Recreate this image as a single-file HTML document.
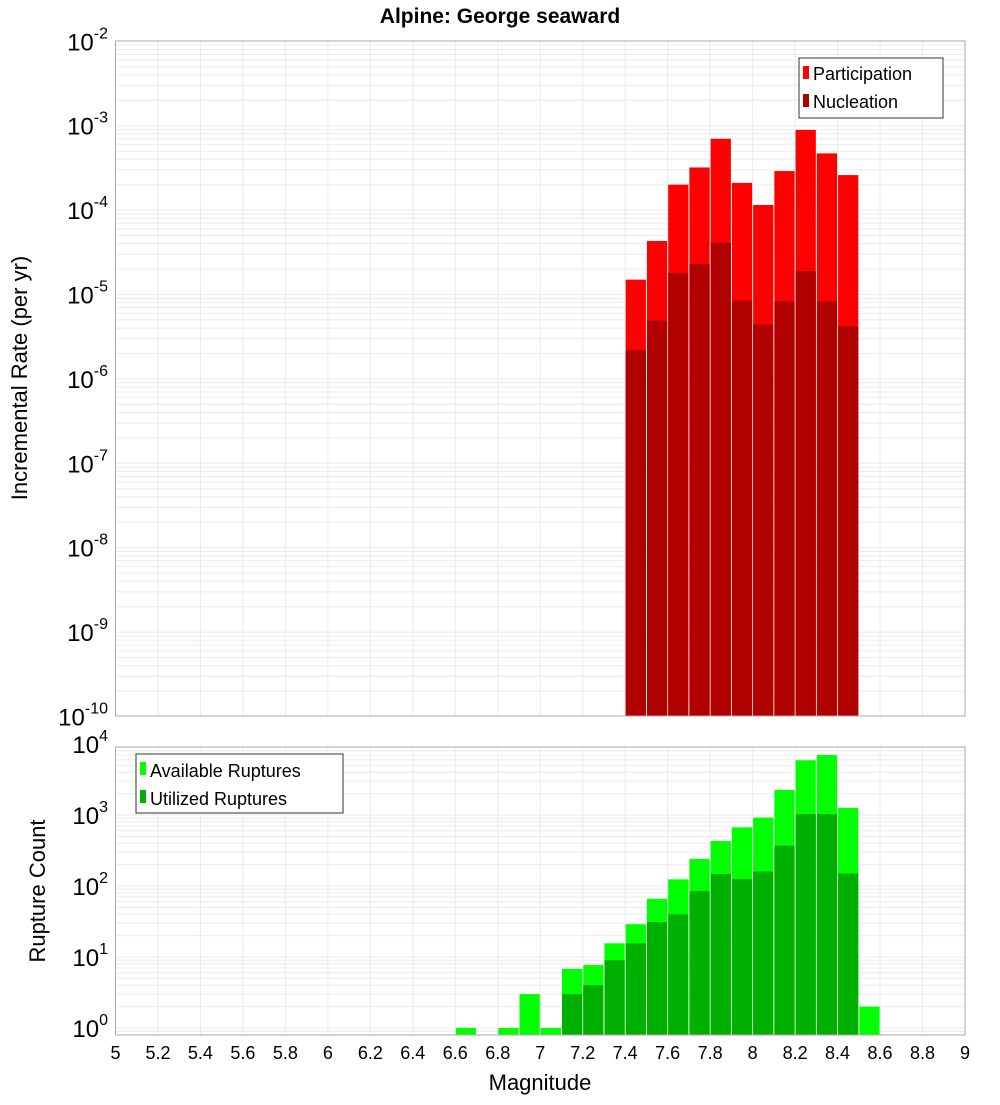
<!DOCTYPE html>
<html><head><meta charset="utf-8"><style>body{margin:0;background:#fff}svg text{font-family:"Liberation Sans","DejaVu Sans",sans-serif}</style></head>
<body>
<svg id="chart" width="1000" height="1100" xmlns="http://www.w3.org/2000/svg">
<text x="500" y="23" text-anchor="middle" font-size="21" font-weight="bold">Alpine: George seaward</text>
<g id="grid"></g><g id="bars"></g><g id="axes"></g>
<text transform="translate(27,378) rotate(-90)" text-anchor="middle" font-size="22">Incremental Rate (per yr)</text>
<text transform="translate(45,891) rotate(-90)" text-anchor="middle" font-size="22">Rupture Count</text>
<text x="540" y="1090" text-anchor="middle" font-size="22">Magnitude</text>
<g>
<rect x="799" y="58" width="144" height="60" fill="#fff" stroke="#333"/>
<rect x="803" y="66" width="6" height="13" fill="#ff0000"/><text x="813" y="80" font-size="18">Participation</text>
<rect x="803" y="94" width="6" height="13" fill="#b00000"/><text x="813" y="108" font-size="18">Nucleation</text>
</g>
<g>
<rect x="136" y="754" width="207" height="59" fill="#fff" stroke="#333"/>
<rect x="140" y="762" width="6" height="13" fill="#00ff00"/><text x="150" y="777" font-size="18">Available Ruptures</text>
<rect x="140" y="790" width="6" height="13" fill="#00b000"/><text x="150" y="805" font-size="18">Utilized Ruptures</text>
</g>
</svg>
<script>
const topMags=[7.45,7.55,7.65,7.75,7.85,7.95,8.05,8.15,8.25,8.35,8.45];
const participation=[1.5e-5,4.3e-5,2.0e-4,3.2e-4,7.0e-4,2.1e-4,1.15e-4,2.9e-4,8.9e-4,4.7e-4,2.6e-4];
const nucleation=[2.2e-6,4.9e-6,1.8e-5,2.3e-5,4.1e-5,8.5e-6,4.4e-6,8.3e-6,1.9e-5,8.3e-6,4.2e-6];
const botMags=[6.65,6.85,6.95,7.05,7.15,7.25,7.35,7.45,7.55,7.65,7.75,7.85,7.95,8.05,8.15,8.25,8.35,8.45,8.55];
const available=[1,1,3,1,6.8,7.7,15.6,29,66,124,240,430,670,920,2250,5900,7000,1260,2];
const utilized=[0,0,0,0,3,4,9,15.6,31,40,85,148,126,160,370,1030,1030,150,0];
const xTicks=[5,5.2,5.4,5.6,5.8,6,6.2,6.4,6.6,6.8,7,7.2,7.4,7.6,7.8,8,8.2,8.4,8.6,8.8,9];
const topExps=[-2,-3,-4,-5,-6,-7,-8,-9,-10];
const botExps=[0,1,2,3,4];
const NS="http://www.w3.org/2000/svg";
const L=115.5,R=965;
const X=m=>L+(m-5)*(R-L)/4;
const YT=v=>41.3+(-2-Math.log10(v))*84.4;
const YB=v=>1028-71*Math.log10(v);
const TT=41,TB=716,BT=747,BB=1035;
function mk(p,tag,a){const e=document.createElementNS(NS,tag);for(const k in a)e.setAttribute(k,a[k]);document.getElementById(p).appendChild(e);return e;}
// grids
for(const [Y,t,b,lo,hi] of [[YT,TT,TB,-10,-2],[YB,BT,BB,-1,4]]){
 for(let d=lo;d<hi;d++)for(let k=1;k<10;k++){const y=Y(k*Math.pow(10,d));if(y<t||y>b)continue;
  const g=mk('grid','line',{x1:L,x2:R,y1:y,y2:y,stroke:'#ebebeb','stroke-width':1});
  
  }
 for(const m of xTicks){const g=mk('grid','line',{x1:X(m),x2:X(m),y1:t,y2:b,stroke:'#ebebeb','stroke-width':1});
  
  }
}
const bw=(R-L)/40;
function bar(m,v,Y,base,col,name){if(!v)return;const y=Y(v);const r=mk('bars','rect',{x:X(m)-bw/2+0.5,y:y,width:bw-1,height:base-y,fill:col});
 
 }
topMags.forEach((m,i)=>{bar(m,participation[i],YT,TB,'#ff0000','participation-bar');bar(m,nucleation[i],YT,TB,'#b00000','nucleation-bar');});
botMags.forEach((m,i)=>{bar(m,available[i],YB,BB,'#00ff00','available-bar');bar(m,utilized[i],YB,BB,'#00b000','utilized-bar');});
// frames
for(const [t,b] of [[TT,TB],[BT,BB]]){const f=mk('axes','rect',{x:L,y:t,width:R-L,height:b-t,fill:'none',stroke:'#aaa'});
 
 }
function ylab(y,e,name){const t=mk('axes','text',{x:108,y:y+9,'text-anchor':'end','font-size':24});
 
 
 t.innerHTML='10<tspan dy="-12" font-size="16">'+e+'</tspan>';}
topExps.forEach(e=>ylab(YT(Math.pow(10,e)),e,'y-tick-top'));
botExps.forEach(e=>ylab(YB(Math.pow(10,e)),e,'y-tick-bottom'));
xTicks.forEach(m=>{const t=mk('axes','text',{x:X(m),y:1059,'text-anchor':'middle','font-size':18});
 
 
 t.textContent=String(m);});
</script>
</body></html>
